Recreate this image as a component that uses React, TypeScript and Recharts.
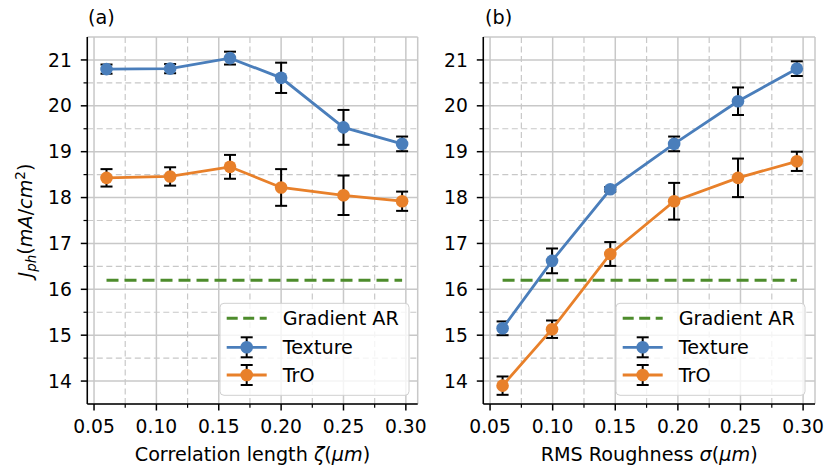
import React from 'react';
import { ComposedChart, Line, XAxis, YAxis, CartesianGrid, ErrorBar, ReferenceLine } from 'recharts';

const FONT = '"DejaVu Sans", sans-serif';
const FS = 18.7;
const LFS = 19.2;
const BLUE = '#4a7ebb';
const ORANGE = '#e8802a';
const GREEN = '#4d8c2c';
const GRID = '#c8c8c8';

// Panel (a): correlation length
const xCorr = [0.06, 0.111, 0.159, 0.2, 0.25, 0.297];
const texCorr = [20.8, 20.81, 21.04, 20.61, 19.53, 19.17];
const texCorrErr = [0.1, 0.1, 0.14, 0.33, 0.38, 0.16];
const troCorr = [18.43, 18.46, 18.67, 18.22, 18.05, 17.92];
const troCorrErr = [0.19, 0.2, 0.26, 0.4, 0.43, 0.21];

// Panel (b): RMS roughness
const xRough = [0.06, 0.0995, 0.146, 0.197, 0.248, 0.295];
const texRough = [15.15, 16.62, 18.18, 19.17, 20.1, 20.81];
const texRoughErr = [0.15, 0.27, 0.05, 0.16, 0.3, 0.16];
const troRough = [13.9, 15.13, 16.77, 17.92, 18.43, 18.79];
const troRoughErr = [0.2, 0.19, 0.26, 0.4, 0.42, 0.21];

const gradientAR = 16.2;

const xTicks = [0.05, 0.1, 0.15, 0.2, 0.25, 0.3];
const xMinor = [0.075, 0.125, 0.175, 0.225, 0.275];
const yTicks = [14, 15, 16, 17, 18, 19, 20, 21];
const yMinor = [14.5, 15.5, 16.5, 17.5, 18.5, 19.5, 20.5];
const X_DOMAIN: [number, number] = [0.0446, 0.3095];
const Y_DOMAIN: [number, number] = [13.5, 21.5];

const legendLabels = ['Gradient AR', 'Texture', 'TrO'];

function buildRows(xs: number[], tex: number[], texErr: number[], tro: number[], troErr: number[]) {
  return xs.map((x, i) => ({ x, tex: tex[i], texErr: texErr[i], tro: tro[i], troErr: troErr[i], grad: gradientAR }));
}

const dataA = buildRows(xCorr, texCorr, texCorrErr, troCorr, troCorrErr);
const dataB = buildRows(xRough, texRough, texRoughErr, troRough, troRoughErr);

const MinorV = (p: any) => {
  const yb = Math.max(p.y1, p.y2);
  const yt = Math.min(p.y1, p.y2);
  return (
    <g>
      <line x1={p.x1} x2={p.x1} y1={yt} y2={yb} stroke={GRID} strokeWidth={1.2} strokeDasharray="6 3.5" />
      <line x1={p.x1} x2={p.x1} y1={yb} y2={yb + 3.8} stroke="#000" strokeWidth={1.2} />
    </g>
  );
};

const MinorH = (p: any) => {
  const xl = Math.min(p.x1, p.x2);
  const xr = Math.max(p.x1, p.x2);
  return (
    <g>
      <line x1={xl} x2={xr} y1={p.y1} y2={p.y1} stroke={GRID} strokeWidth={1.2} strokeDasharray="6 3.5" />
      <line x1={xl - 3.8} x2={xl} y1={p.y1} y2={p.y1} stroke="#000" strokeWidth={1.2} />
    </g>
  );
};

const YLabel = (props: any) => {
  const vb = props.viewBox || { x: 0, y: 0, height: 0 };
  const cx = 32;
  const cy = vb.y + vb.height / 2;
  return (
    <text transform={`rotate(-90, ${cx}, ${cy})`} x={cx} y={cy} textAnchor="middle" fontFamily={FONT} fontSize={LFS} fill="#000">
      <tspan fontStyle="italic">J</tspan>
      <tspan fontStyle="italic" fontSize={13.5} dy={4}>ph</tspan>
      <tspan dy={-4}>(</tspan>
      <tspan fontStyle="italic">mA</tspan>
      <tspan>/</tspan>
      <tspan fontStyle="italic">cm</tspan>
      <tspan fontSize={13.5} dy={-7}>2</tspan>
      <tspan dy={7}>)</tspan>
    </text>
  );
};

const makeXLabel = (prefix: string, sym: string) => (props: any) => {
  const vb = props.viewBox || { x: 0, y: 0, width: 0 };
  return (
    <text x={vb.x + vb.width / 2} y={vb.y + 57} textAnchor="middle" fontFamily={FONT} fontSize={LFS} fill="#000">
      <tspan>{prefix}</tspan>
      <tspan fontStyle="italic">{sym}</tspan>
      <tspan>(</tspan>
      <tspan fontStyle="italic">μm</tspan>
      <tspan>)</tspan>
    </text>
  );
};

const tickStyle = { fontFamily: FONT, fontSize: FS, fill: '#000' };

function Panel({ data, width, marginLeft, yAxisWidth, marginRight, xLabel, showYLabel }: any) {
  return (
    <ComposedChart
      width={width}
      height={469}
      data={data}
      margin={{ top: 37, right: marginRight, bottom: 5, left: marginLeft }}
    >
      <CartesianGrid stroke={GRID} strokeWidth={1.5} />
      {xMinor.map((v) => (
        <ReferenceLine key={'mx' + v} x={v} shape={MinorV} />
      ))}
      {yMinor.map((v) => (
        <ReferenceLine key={'my' + v} y={v} shape={MinorH} />
      ))}
      <XAxis
        dataKey="x"
        type="number"
        domain={X_DOMAIN}
        allowDataOverflow
        ticks={xTicks}
        tickFormatter={(v: number) => v.toFixed(2)}
        tick={tickStyle}
        tickSize={6.5}
        tickMargin={9.5}
        height={60}
        axisLine={{ stroke: '#000', strokeWidth: 1.5 }}
        tickLine={{ stroke: '#000', strokeWidth: 1.5 }}
        label={{ content: xLabel }}
      />
      <XAxis xAxisId="top" orientation="top" type="number" domain={X_DOMAIN} allowDataOverflow height={0} tick={false} tickLine={false} axisLine={{ stroke: '#000', strokeWidth: 1.5 }} />
      <YAxis
        type="number"
        domain={Y_DOMAIN}
        allowDataOverflow
        ticks={yTicks}
        tick={tickStyle}
        tickSize={6.5}
        tickMargin={9}
        width={yAxisWidth}
        axisLine={{ stroke: '#000', strokeWidth: 1.5 }}
        tickLine={{ stroke: '#000', strokeWidth: 1.5 }}
        label={showYLabel ? { content: YLabel } : undefined}
      />
      <YAxis yAxisId="right" orientation="right" type="number" domain={Y_DOMAIN} allowDataOverflow width={0} tick={false} tickLine={false} axisLine={{ stroke: '#000', strokeWidth: 1.5 }} />
      <Line dataKey="grad" stroke={GREEN} strokeWidth={3} strokeDasharray="12 6" dot={false} activeDot={false} isAnimationActive={false} />
      <Line dataKey="tex" stroke={BLUE} strokeWidth={2.8} dot={false} activeDot={false} isAnimationActive={false}>
        <ErrorBar dataKey="texErr" width={6} strokeWidth={2} stroke="#000" direction="y" isAnimationActive={false} />
      </Line>
      <Line dataKey="tex" stroke="none" strokeWidth={0} dot={{ r: 6.3, fill: BLUE, stroke: BLUE, strokeWidth: 0 }} activeDot={false} isAnimationActive={false} />
      <Line dataKey="tro" stroke={ORANGE} strokeWidth={2.8} dot={false} activeDot={false} isAnimationActive={false}>
        <ErrorBar dataKey="troErr" width={6} strokeWidth={2} stroke="#000" direction="y" isAnimationActive={false} />
      </Line>
      <Line dataKey="tro" stroke="none" strokeWidth={0} dot={{ r: 6.3, fill: ORANGE, stroke: ORANGE, strokeWidth: 0 }} activeDot={false} isAnimationActive={false} />
    </ComposedChart>
  );
}

function LegendBox({ x, y }: { x: number; y: number }) {
  const rows = [y + 15, y + 44, y + 71.7];
  const lx1 = x + 6.7;
  const lx2 = x + 46.7;
  const mx = x + 26.7;
  const tx = x + 62.7;
  return (
    <g>
      <rect x={x} y={y} width={189} height={92} rx={4} ry={4} fill="#fff" fillOpacity={0.8} stroke="#d0d0d0" strokeWidth={1} />
      <line x1={lx1} x2={lx2} y1={rows[0]} y2={rows[0]} stroke={GREEN} strokeWidth={3} strokeDasharray="11 5.5" />
      {[BLUE, ORANGE].map((c, i) => {
        const cy = rows[i + 1];
        return (
          <g key={c}>
            <line x1={lx1} x2={lx2} y1={cy} y2={cy} stroke={c} strokeWidth={2.8} />
            <line x1={mx} x2={mx} y1={cy - 10} y2={cy + 10} stroke="#000" strokeWidth={2} />
            <line x1={mx - 6} x2={mx + 6} y1={cy - 10} y2={cy - 10} stroke="#000" strokeWidth={2} />
            <line x1={mx - 6} x2={mx + 6} y1={cy + 10} y2={cy + 10} stroke="#000" strokeWidth={2} />
            <circle cx={mx} cy={cy} r={6.3} fill={c} />
          </g>
        );
      })}
      {legendLabels.map((t, i) => (
        <text key={t} x={tx} y={rows[i] + 0.36 * LFS} fontFamily={FONT} fontSize={LFS} fill="#000">
          {t}
        </text>
      ))}
    </g>
  );
}

export default function App() {
  return (
    <div style={{ position: 'absolute', left: 0, top: 0, width: 827, height: 469, background: '#fff' }}>
      <div style={{ position: 'absolute', left: 0, top: 0 }}>
        <Panel data={dataA} width={440} marginLeft={10} yAxisWidth={77.3} marginRight={22.3} xLabel={makeXLabel('Correlation length ', 'ζ')} showYLabel />
      </div>
      <div style={{ position: 'absolute', left: 410, top: 0 }}>
        <Panel data={dataB} width={417} marginLeft={10} yAxisWidth={63.3} marginRight={12} xLabel={makeXLabel('RMS Roughness ', 'σ')} showYLabel={false} />
      </div>
      <svg width={827} height={469} style={{ position: 'absolute', left: 0, top: 0, pointerEvents: 'none' }}>
        <text x={88} y={24} fontFamily={FONT} fontSize={LFS} fill="#000">(a)</text>
        <text x={485} y={24} fontFamily={FONT} fontSize={LFS} fill="#000">(b)</text>
        <LegendBox x={220} y={303.3} />
        <LegendBox x={616} y={303.3} />
      </svg>
    </div>
  );
}
